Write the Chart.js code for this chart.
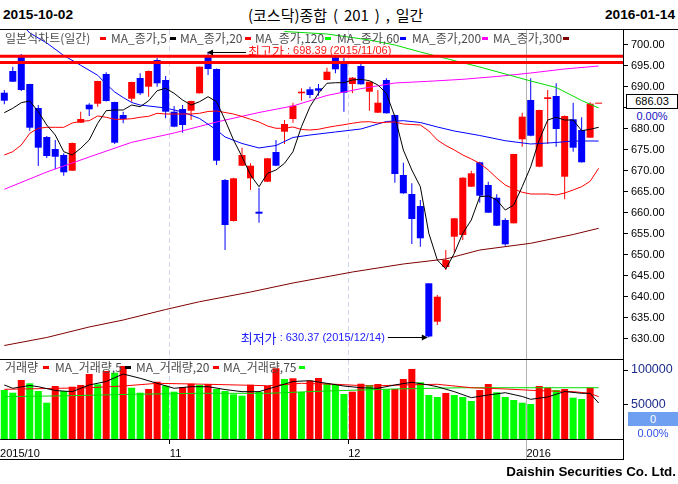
<!DOCTYPE html>
<html>
<head>
<meta charset="utf-8">
<script src="https://cdn.jsdelivr.net/npm/chart.js"></script>
<style>
body{margin:0;background:#fff}
#wrap{position:relative;width:678px;height:484px;overflow:hidden;background:#fff;font-family:"Liberation Sans",Arial,sans-serif}
#wrap canvas{position:absolute;left:0}
.t{position:absolute;white-space:pre}
.lg{font:12px/14px "Noto Sans CJK KR",sans-serif;color:#4c4c4c}
.d{position:absolute;width:6px;height:3px}
.ln{position:absolute;background:#000}
.bx{position:absolute;text-align:center;font:11px/13px "Liberation Sans",Arial,sans-serif}
</style>
</head>
<body>
<div id="wrap">
  <div class="t" style="left:3px;top:6px;font:bold 13.7px/18px 'Liberation Sans',Arial,sans-serif">2015-10-02</div>
  <div class="t" style="left:248px;top:6px;font:15px/18px 'Noto Sans CJK KR',sans-serif;word-spacing:2.5px">(코스닥)종합 ( 201 ) , 일간</div>
  <div class="t" style="right:3px;top:6px;font:bold 13.7px/18px 'Liberation Sans',Arial,sans-serif">2016-01-14</div>

  <canvas id="price" width="678" height="330" style="top:30px;width:678px;height:330px"></canvas>
  <canvas id="vol" width="678" height="100" style="top:360px;width:678px;height:100px"></canvas>

  <div class="ln" style="left:0;top:29px;width:678px;height:1px"></div>
  <div class="ln" style="left:0;top:359px;width:623px;height:1px"></div>
  <div class="ln" style="left:0;top:459px;width:624px;height:1px"></div>
  <div class="ln" style="left:623px;top:439px;width:1px;height:21px"></div>

  <!-- price legend -->
  <div class="t lg" style="left:5px;top:31px">일본식차트(일간)</div><i class="d" style="left:100px;top:37px;background:#ff0000"></i>
  <div class="t lg" style="left:111px;top:31px">MA_종가,5</div><i class="d" style="left:170px;top:37px;background:#000000"></i>
  <div class="t lg" style="left:180px;top:31px">MA_종가,20</div><i class="d" style="left:245px;top:37px;background:#ff0000"></i>
  <div class="t lg" style="left:255px;top:31px">MA_종가,120</div><i class="d" style="left:325px;top:37px;background:#00ff00"></i>
  <div class="t lg" style="left:337px;top:31px">MA_종가,60</div><i class="d" style="left:400px;top:37px;background:#0000ff"></i>
  <div class="t lg" style="left:412px;top:31px">MA_종가,200</div><i class="d" style="left:482px;top:37px;background:#ff00ff"></i>
  <div class="t lg" style="left:493px;top:31px">MA_종가,300</div><i class="d" style="left:563px;top:37px;background:#800000"></i>

  <!-- volume legend -->
  <div class="t lg" style="left:5px;top:360px">거래량</div><i class="d" style="left:43px;top:366px;background:#ff0000"></i>
  <div class="t lg" style="left:55px;top:360px">MA_거래량,5</div><i class="d" style="left:125px;top:366px;background:#000000"></i>
  <div class="t lg" style="left:136px;top:360px">MA_거래량,20</div><i class="d" style="left:213px;top:366px;background:#ff0000"></i>
  <div class="t lg" style="left:223px;top:360px">MA_거래량,75</div><i class="d" style="left:299px;top:366px;background:#00ff00"></i>

  <!-- right side value boxes -->
  <div class="bx" id="lastBox" style="left:626px;top:94px;width:50px;border:1px solid #000;background:#fff;color:#000"></div>
  <div class="bx" style="left:626px;top:109px;width:52px;height:14px;line-height:14px;background:#fff;color:#1010c0">0.00%</div>
  <div class="bx" id="volBox" style="left:628px;top:412px;width:50px;height:14px;line-height:14px;background:#6f9ff0;color:#fff"></div>
  <div class="bx" style="left:628px;top:426px;width:50px;height:14px;line-height:14px;background:#fff;color:#3050ee">0.00%</div>

  <div class="t" style="right:2px;top:463px;font:bold 13.4px/18px 'Liberation Sans',Arial,sans-serif">Daishin Securities Co. Ltd.</div>
</div>

<script>
// daily candles, 2015-10-02 .. 2016-01-14 (last one is today's flat quote)
const opens = [688.64, 693.81, 697.14, 690.71, 685.00, 678.10, 675.24, 673.81, 670.07, 681.50,
  685.79, 686.02, 693.10, 686.43, 683.33, 687.21, 692.14, 690.07, 696.43, 691.67,
  684.12, 684.76, 684.36, 688.50, 697.14, 694.29, 667.86, 658.10, 671.26, 668.26,
  660.31, 667.45, 674.52, 679.36, 682.38, 688.50, 689.45, 689.69, 691.67, 697.07,
  695.88, 690.71, 695.00, 688.88, 683.88, 691.67, 683.33, 669.05, 664.52, 661.67,
  643.26, 634.12, 647.14, 654.36, 654.76, 666.26, 672.07, 666.67, 663.64, 658.33,
  657.55, 677.55, 686.90, 671.02, 687.14, 687.86, 668.64, 682.31, 679.76, 677.93, 686.03]
const highs = [689.29, 694.83, 697.86, 690.80, 685.71, 678.33, 677.38, 674.21, 676.80, 684.12,
  686.12, 691.50, 693.50, 686.50, 684.12, 691.25, 693.26, 693.90, 696.90, 692.62,
  685.48, 685.71, 686.75, 694.90, 698.39, 694.40, 668.10, 668.40, 675.55, 671.83,
  666.02, 673.10, 677.38, 682.14, 686.26, 689.69, 690.07, 690.71, 694.60, 697.62,
  696.90, 692.38, 695.64, 691.30, 689.29, 692.07, 683.40, 671.98, 667.07, 663.10,
  643.30, 640.48, 651.19, 658.80, 668.50, 670.07, 672.21, 667.45, 664.45, 658.74,
  674.10, 683.88, 692.07, 684.60, 689.29, 690.88, 683.20, 686.26, 682.79, 686.36, 686.03]
const lows = [685.88, 691.20, 689.05, 679.60, 671.19, 673.10, 670.40, 668.88, 670.00, 681.43,
  683.10, 685.31, 686.55, 676.43, 681.36, 686.50, 688.10, 687.69, 690.07, 682.55,
  680.40, 679.12, 682.14, 688.45, 692.86, 671.43, 651.19, 658.00, 671.20, 665.48,
  657.69, 667.40, 671.20, 676.43, 681.50, 686.74, 687.31, 687.93, 691.60, 693.26,
  684.12, 688.50, 690.60, 684.36, 683.80, 683.70, 667.21, 664.60, 652.62, 651.98,
  630.37, 633.33, 646.43, 650.40, 653.57, 666.20, 662.45, 660.00, 656.90, 652.21,
  657.50, 675.79, 678.30, 670.90, 676.43, 675.79, 663.26, 674.60, 672.00, 677.90, 686.03]
const closes = [686.74, 691.26, 689.29, 680.31, 675.55, 673.57, 673.40, 669.69, 676.67, 682.38,
  684.69, 691.43, 686.67, 676.74, 682.38, 691.19, 688.50, 693.81, 690.88, 684.12,
  680.55, 680.95, 686.67, 694.83, 694.29, 672.45, 657.14, 668.26, 673.81, 671.26,
  659.83, 673.02, 671.26, 681.19, 685.55, 688.88, 688.10, 689.12, 693.64, 694.21,
  688.64, 692.21, 690.64, 691.26, 686.26, 683.74, 669.29, 664.69, 658.57, 653.98,
  630.60, 640.07, 648.81, 658.74, 668.40, 669.45, 664.12, 660.07, 656.98, 652.55,
  674.05, 682.93, 678.40, 684.52, 687.55, 680.00, 683.10, 675.55, 672.07, 686.03, 686.03]

const volumes = [71000, 67100, 85500, 80700, 69600, 52600, 76800, 69600, 75800, 78300,
  94200, 79300, 98600, 96100, 105800, 74300, 67100, 72500, 83000, 77200,
  68600, 74900, 80100, 78300, 79700, 72500, 69600, 64800, 62800, 78700,
  68100, 76800, 102500, 87000, 88000, 68100, 84500, 88400, 80700, 78300,
  65200, 68600, 80100, 78300, 79700, 72000, 72500, 87000, 101500, 82200,
  63800, 60900, 66700, 63800, 60900, 55100, 71000, 79700, 67700, 60900,
  56500, 52600, 50700, 76800, 74300, 71000, 72500, 59900, 58000, 74300, 0]
// r = red bar, g = green bar, as drawn
const volColors = ('ggrgggrgrr' + 'rgrgrggrrg' + 'grrgrggggr' + 'grrgrgrrgg' +
  'grrgrgrrrg' + 'ggrgggrrgg' + 'gggrrgrggr' + 'r').split('')

// moving averages of the close
const ma5 = [683.88, 684.93, 686.26, 686.67, 684.12, 680.95, 678.57, 674.60, 673.81, 675.40,
  677.38, 681.36, 684.36, 684.52, 684.52, 685.71, 685.31, 686.71, 689.12, 689.69,
  688.50, 686.90, 685.71, 686.50, 687.69, 686.50, 682.14, 677.38, 673.40, 669.05,
  666.26, 669.45, 670.24, 671.83, 674.60, 680.55, 685.31, 688.50, 690.88, 691.02,
  691.02, 691.67, 691.83, 691.50, 690.48, 688.50, 682.93, 675.00, 670.24, 666.26,
  655.17, 648.81, 646.67, 650.40, 655.17, 658.33, 663.88, 664.05, 663.10, 660.71,
  661.90, 666.26, 671.02, 677.38, 682.14, 682.79, 682.14, 682.14, 679.60, 679.93, 680.40]
const ma20 = [673.81, 674.60, 676.19, 678.98, 680.17, 680.40, 680.40, 680.40, 681.43, 681.83,
  681.98, 683.10, 682.79, 682.31, 682.31, 682.45, 682.79, 683.02, 683.74, 683.57,
  683.57, 683.57, 683.57, 683.74, 684.17, 684.29, 683.93, 683.57, 682.98, 682.31,
  681.67, 680.71, 680.17, 680.17, 680.48, 679.88, 679.76, 679.93, 680.36, 680.71,
  681.02, 681.36, 681.67, 681.74, 681.43, 681.60, 681.67, 681.19, 681.07, 680.95,
  679.52, 677.38, 676.07, 675.00, 673.81, 672.86, 671.83, 670.24, 668.33, 666.67,
  665.71, 664.93, 664.52, 664.52, 664.52, 664.29, 664.76, 665.48, 666.26, 667.55, 670.64]
const ma60At = [2, 3, 5, 7, 9, 11, 12, 13, 14, 15, 16, 19, 21, 23, 25, 26, 28, 30, 32, 34, 36, 39, 42, 45, 47, 49, 51, 53, 56, 59, 62, 65, 67, 70]
const ma60 = [705.00, 702.86, 700.48, 697.50, 695.17, 692.79, 690.71, 688.81, 687.50, 686.31, 685.71, 685.00, 684.05, 682.50,
  679.76, 678.10, 676.55, 675.48, 676.07, 677.98, 678.57, 679.29, 680.00, 681.79, 681.98, 681.55, 680.48, 679.52,
  678.45, 677.21, 676.43, 676.79, 677.14, 677.14]
const ma120At = [33, 38, 43, 46, 49, 52, 56, 59, 62, 65, 68, 70]
const ma120 = [703.21, 702.62, 701.19, 700.00, 698.33, 696.79, 694.76, 693.10, 691.43, 689.88, 686.79, 685.00]
const ma200At = [0, 5, 10, 15, 20, 25, 30, 34, 38, 42, 46, 50, 54, 58, 62, 66, 70]
const ma200 = [665.64, 669.76, 673.33, 676.83, 679.05, 681.67, 683.93, 685.48, 687.98, 689.60, 690.95, 691.36, 691.83, 692.50, 693.33, 694.29, 695.00]
const ma300At = [0, 5, 10, 14, 19, 23, 29, 34, 41, 47, 52, 56, 62, 67, 70]
const ma300 = [628.45, 630.36, 632.86, 634.52, 637.02, 638.88, 641.19, 643.33, 645.95, 647.86, 649.05, 651.19, 652.79, 654.88, 656.36]

// moving averages of the volume
const volMa5At = [0, 1, 3, 4, 6, 8, 10, 12, 14, 16, 18, 20, 22, 24, 26, 28, 30, 32, 34, 36, 38, 40, 42, 44, 46, 48, 50, 51, 53, 55, 57, 59, 61, 62, 64, 66, 68, 69, 70]
const volMa5 = [78300, 73500, 77500, 75800, 70300, 68600, 78300, 83300, 94200, 88000,
  80700, 73500, 75800, 75800, 71700, 68600, 68600, 75800, 83300, 84500,
  80700, 76800, 74300, 73500, 78300, 82200, 78300, 75800, 68600, 59900,
  63800, 67100, 61600, 57500, 60900, 68800, 66200, 66200, 52200]
const volMa20At = [0, 10, 14, 18, 24, 31, 35, 39, 43, 47, 51, 55, 59, 63, 67, 69, 70]
const volMa20 = [72000, 74300, 76800, 80700, 79300, 77200, 80700, 79300, 76800, 78300, 79300, 74300, 72500, 70000, 68600, 66200, 61300]
const volMa75At = [0, 8, 15, 23, 31, 38, 42, 46, 54, 62, 70]
const volMa75 = [61300, 62800, 64800, 66200, 66200, 69600, 71000, 72500, 74300, 74300, 74300]

const highLevels = [697.31, 695.83]
const priceTicks = [630, 635, 640, 645, 650, 655, 660, 665, 670, 675, 680, 685, 690, 695, 700]
const volTicks = [50000, 100000]
const monthLabels = ['2015/10', '11', '12', '2016']
const monthStarts = [0, 20, 41, 62]
const highDate = '2015/11/06'
const lowDate = '2015/12/14'

const FONT = '"Liberation Sans", Arial, sans-serif'
const KFONT = '"Noto Sans CJK KR", sans-serif'
Chart.defaults.font.family = FONT

const X_MIN = -0.506, X_MAX = 72.87
const UP = '#ff0000', DOWN = '#0000ff'

const idx = closes.map((c, i) => i)
const candleColor = closes.map((c, i) => c >= opens[i] ? UP : DOWN)
const pts = (xs, ys) => ys.map((v, k) => ({x: xs[k], y: v}))

document.getElementById('lastBox').textContent = closes[closes.length - 1].toFixed(2)
document.getElementById('volBox').textContent = String(volumes[volumes.length - 1])

function lineSet(data, color, width) {
  return {type: 'line', data: data, borderColor: color, borderWidth: width || 1,
    pointRadius: 0, fill: false, tension: 0, xAxisID: 'x', yAxisID: 'y'}
}

function fixedTicks(values) {
  return s => { s.ticks = values.map(v => ({value: v})) }
}

function gridAxis(values, color, dash, weight) {
  return {
    type: 'linear', position: 'bottom', min: X_MIN, max: X_MAX, offset: false, weight: weight || 0,
    afterBuildTicks: fixedTicks(values),
    afterFit: s => { s.height = 0; s.paddingLeft = 0; s.paddingRight = 0 },
    ticks: {display: false},
    grid: {offset: false, drawTicks: false, color: color, lineWidth: 1},
    border: {display: false, dash: dash}
  }
}

function rightAxis(min, max, ticks, fmt, size, color) {
  return {
    type: 'linear', position: 'right', min: min, max: max, beginAtZero: false,
    afterBuildTicks: fixedTicks(ticks),
    afterFit: s => { s.width = 55; s.paddingTop = 0; s.paddingBottom = 0 },
    ticks: {autoSkip: false, padding: 3, color: color, font: {family: FONT, size: size}, callback: fmt},
    grid: {drawOnChartArea: false, tickLength: 5, tickColor: '#000'},
    border: {display: true, color: '#000'}
  }
}

function drawNote(ctx, head, tail, x, y, color, align) {
  const f1 = '13px ' + KFONT, f2 = '11px ' + FONT
  ctx.textBaseline = 'middle'
  ctx.textAlign = 'left'
  ctx.fillStyle = color
  ctx.font = f1
  const w1 = ctx.measureText(head).width
  ctx.font = f2
  const w2 = ctx.measureText(tail).width
  const sx = align === 'right' ? x - w1 - w2 : x
  ctx.font = f1
  ctx.fillText(head, sx, y)
  ctx.font = f2
  ctx.fillText(tail, sx + w1, y)
}

// 최고가 / 최저가 notes with arrows
const extremeNotes = {
  id: 'extremeNotes',
  afterDatasetsDraw(chart) {
    const {ctx, scales} = chart
    const hi = Math.max(...highs), hiIdx = highs.indexOf(hi)
    const lo = Math.min(...lows), loIdx = lows.indexOf(lo)
    const hx = scales.x.getPixelForValue(hiIdx), hy = scales.y.getPixelForValue(hi)
    const lx = scales.x.getPixelForValue(loIdx), ly = scales.y.getPixelForValue(lo)
    ctx.save()
    ctx.strokeStyle = '#000'
    ctx.fillStyle = '#000'
    ctx.lineWidth = 1

    const ay = Math.round(hy) + 0.5
    ctx.beginPath(); ctx.moveTo(hx + 2, ay); ctx.lineTo(hx + 38, ay); ctx.stroke()
    ctx.beginPath(); ctx.moveTo(hx - 1, ay); ctx.lineTo(hx + 5, ay - 3); ctx.lineTo(hx + 5, ay + 3); ctx.closePath(); ctx.fill()
    drawNote(ctx, '최고가', ' : ' + hi.toFixed(2) + ' (' + highDate + ')', hx + 40, hy - 1, '#ff1a1a', 'left')

    const by = Math.round(ly) + 0.5
    ctx.strokeStyle = '#000'
    ctx.fillStyle = '#000'
    ctx.beginPath(); ctx.moveTo(lx - 41, by); ctx.lineTo(lx - 3, by); ctx.stroke()
    ctx.beginPath(); ctx.moveTo(lx - 1, by); ctx.lineTo(lx - 7, by - 3); ctx.lineTo(lx - 7, by + 3); ctx.closePath(); ctx.fill()
    drawNote(ctx, '최저가', ' : ' + lo.toFixed(2) + ' (' + lowDate + ')', lx - 44, ly + 0.5, '#2222ff', 'right')
    ctx.restore()
  }
}

const monthLines = [monthStarts[1] - 0.5, monthStarts[2] - 0.5]
const yearLine = [monthStarts[3] - 0.5]

new Chart(document.getElementById('price'), {
  type: 'bar',
  data: {
    datasets: [
      ...highLevels.map(v => lineSet([{x: X_MIN, y: v}, {x: X_MAX, y: v}], '#ff0000', 3)),
      lineSet(pts(idx, ma5), '#000000'),
      lineSet(pts(idx, ma20), '#ff0000'),
      lineSet(pts(ma60At, ma60), '#0000ff'),
      lineSet(pts(ma120At, ma120), '#00dd00'),
      lineSet(pts(ma200At, ma200), '#ff00ff'),
      lineSet(pts(ma300At, ma300), '#800000'),
      {type: 'bar', data: idx.map(i => ({x: i, y: [opens[i], closes[i]]})), backgroundColor: candleColor,
        barThickness: 7, grouped: false, minBarLength: 1, inflateAmount: 0, borderWidth: 0, xAxisID: 'x', yAxisID: 'y'},
      {type: 'bar', data: idx.map(i => ({x: i, y: [lows[i], highs[i]]})), backgroundColor: candleColor,
        barThickness: 1, grouped: false, inflateAmount: 0, borderWidth: 0, xAxisID: 'x', yAxisID: 'y'}
    ]
  },
  options: {
    responsive: false, animation: false, devicePixelRatio: 1,
    layout: {padding: 0},
    plugins: {legend: {display: false}, tooltip: {enabled: false}},
    scales: {
      x: gridAxis(monthLines, '#d4d4f0', [5, 3]),
      x2: gridAxis(yearLine, '#b4b4b4', []),
      y: rightAxis(625, 703.571, priceTicks, v => Number(v).toFixed(2), 11, '#000')
    }
  },
  plugins: [extremeNotes]
})

const yearAxis = gridAxis(yearLine, '#b4b4b4', [])
yearAxis.grid = {offset: false, drawTicks: true, tickLength: 21, color: '#b4b4b4', tickColor: '#b4b4b4'}

new Chart(document.getElementById('vol'), {
  type: 'bar',
  data: {
    datasets: [
      lineSet(pts(volMa5At, volMa5), '#000000'),
      lineSet(pts(volMa20At, volMa20), '#ff0000'),
      lineSet(pts(volMa75At, volMa75), '#00dd00'),
      {type: 'bar', data: idx.map(i => ({x: i, y: volumes[i]})),
        backgroundColor: volColors.map(c => c === 'r' ? '#ff0000' : '#00ff00'),
        barThickness: 7, inflateAmount: 0, borderWidth: 0, xAxisID: 'x', yAxisID: 'y'}
    ]
  },
  options: {
    responsive: false, animation: false, devicePixelRatio: 1,
    layout: {padding: 0},
    plugins: {legend: {display: false}, tooltip: {enabled: false}},
    scales: {
      x: {
        type: 'linear', position: 'bottom', min: X_MIN, max: X_MAX, offset: false, weight: 1,
        afterBuildTicks: fixedTicks(monthStarts.map(s => s - 0.5)),
        afterFit: s => { s.height = 21; s.paddingLeft = 0; s.paddingRight = 0 },
        ticks: {autoSkip: false, maxRotation: 0, align: 'start', padding: 3, color: '#000',
          font: {family: FONT, size: 11}, callback: (v, k) => monthLabels[k]},
        grid: {offset: false, drawOnChartArea: false, tickLength: 5,
          tickColor: c => (c.index === 1 || c.index === 2) ? '#000' : 'rgba(0,0,0,0)'},
        border: {display: true, color: '#000'}
      },
      xd: gridAxis(monthLines, '#d4d4f0', [5, 3]),
      xg: yearAxis,
      y: rightAxis(0, 114493, volTicks, v => String(v), 12.5, '#1c2c8c')
    }
  }
})
</script>
</body>
</html>
